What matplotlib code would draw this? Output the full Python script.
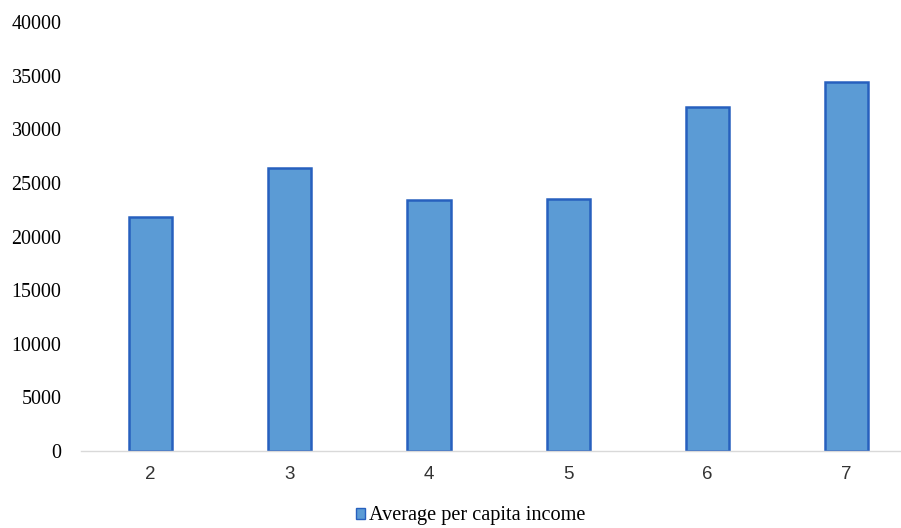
import matplotlib.pyplot as plt
from matplotlib.patches import Patch

groups = ["2", "3", "4", "5", "6", "7"]
income = [21800, 26350, 23450, 23500, 32100, 34450]
yticks = [0, 5000, 10000, 15000, 20000, 25000, 30000, 35000, 40000]

fill = "#5B9BD5"
edge = "#2760BE"

fig = plt.figure(figsize=(9.01, 5.28), dpi=100)
ax = fig.add_axes([0.0899, 0.1458, 0.927, 0.8125])

x = range(len(groups))
ax.bar(x, income, width=0.31, color=fill, edgecolor=edge, linewidth=1.8)

ax.set_xlim(-0.5, len(groups) - 0.5)
ax.set_ylim(0, 40000)
ax.set_xticks(list(x))
ax.set_xticklabels(groups, fontfamily="Liberation Sans", fontsize=13.5, color="#333333")
ax.set_yticks(yticks)
ax.set_yticklabels([str(v) for v in yticks], fontfamily="Liberation Serif", fontsize=14.4)
ax.tick_params(axis="x", length=0, pad=11)
ax.tick_params(axis="y", length=0, pad=14)

for side in ["top", "right", "left"]:
    ax.spines[side].set_visible(False)
ax.spines["bottom"].set_color("#D9D9D9")
ax.spines["bottom"].set_linewidth(1.0)

handle = Patch(facecolor=fill, edgecolor=edge, linewidth=1.0)
fig.legend([handle], ["Average per capita income"], loc="center",
           bbox_to_anchor=(0.522, 0.023), frameon=False,
           prop={"family": "Liberation Serif", "size": 14.6},
           handlelength=0.45, handleheight=0.45, handletextpad=0.2)

fig.savefig("out.png", dpi=100)
